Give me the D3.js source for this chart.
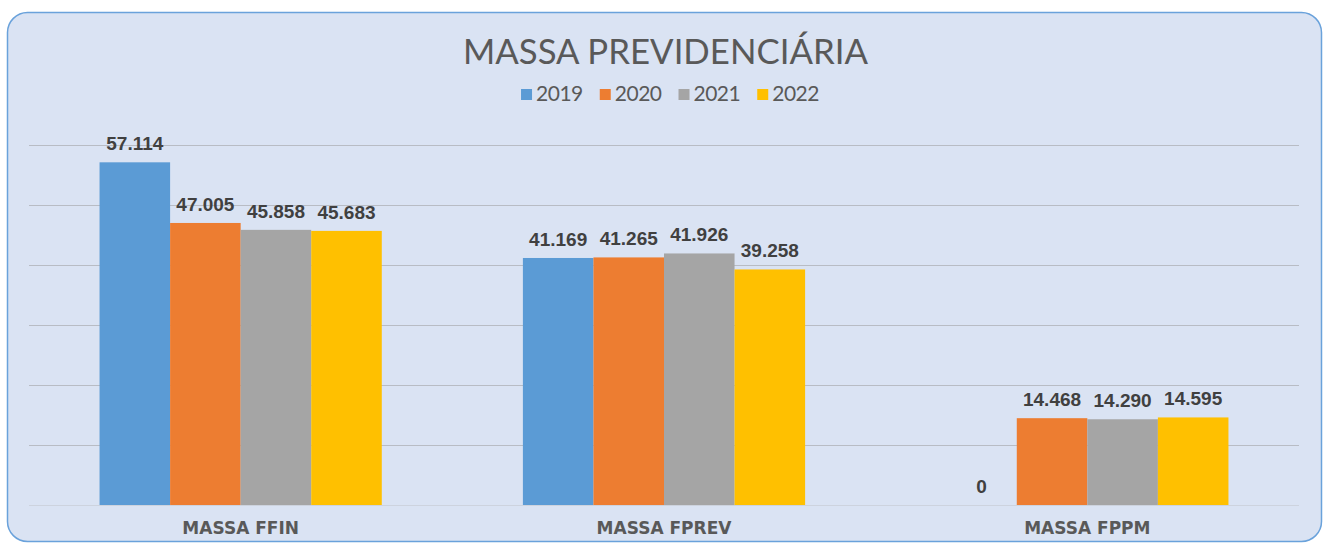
<!DOCTYPE html>
<html>
<head>
<meta charset="utf-8">
<style>
  body { margin: 0; background: #ffffff; }
  .title { font: 400 34px Lato, "Open Sans", sans-serif; fill: #595959; }
  .legend text { font: 400 21px Lato, sans-serif; fill: #595959; letter-spacing: -0.5px; }
  .label { font: bold 19px "Liberation Sans", Arial, sans-serif; fill: #404040; text-anchor: middle; }
  .cat { font: bold 17px "DejaVu Sans", sans-serif; fill: #595959; text-anchor: middle; }
</style>
<script src="https://d3js.org/d3.v7.min.js"></script>
</head>
<body>
<script>
// data
var categories = ["MASSA FFIN", "MASSA FPREV", "MASSA FPPM"];
var years = ["2019", "2020", "2021", "2022"];
var v2019 = [57114, 41169, 0];
var v2020 = [47005, 41265, 14468];
var v2021 = [45858, 41926, 14290];
var v2022 = [45683, 39258, 14595];
var yTicks = [0, 10000, 20000, 30000, 40000, 50000, 60000];
var colors = ["#5b9bd5", "#ed7d31", "#a5a5a5", "#ffc000"];

var series = [v2019, v2020, v2021, v2022];
var width = 1325, height = 543;

var svg = d3.select("body").append("svg")
    .attr("width", width)
    .attr("height", height);

// panel
svg.append("rect")
    .attr("x", 7.5).attr("y", 12.5)
    .attr("width", 1314).attr("height", 529)
    .attr("rx", 20).attr("ry", 20)
    .attr("fill", "#dae3f3")
    .attr("stroke", "#6aa2db")
    .attr("stroke-width", 1.5);

var x0 = d3.scaleBand().domain(categories).range([29, 1299]).padding(0);
var x1 = d3.scaleBand().domain(years).range([0, x0.bandwidth()]).paddingInner(0).paddingOuter(1);
var y = d3.scaleLinear().domain([0, 60000]).range([505, 145]);

// gridlines
svg.append("g").selectAll("line")
    .data(yTicks)
    .enter().append("line")
    .attr("x1", 29).attr("x2", 1299)
    .attr("y1", function(d) { return Math.round(y(d)) + 0.5; })
    .attr("y2", function(d) { return Math.round(y(d)) + 0.5; })
    .attr("stroke", function(d) { return d === 0 ? "#cdd3de" : "#b8bcc4"; })
    .attr("stroke-width", 1);

// bars
var rows = [];
categories.forEach(function(c, i) {
    years.forEach(function(yr, j) {
        rows.push({cat: c, year: yr, value: series[j][i], color: colors[j]});
    });
});

var g = svg.append("g");
g.selectAll("rect")
    .data(rows)
    .enter().append("rect")
    .attr("x", function(d) { return x0(d.cat) + x1(d.year); })
    .attr("width", x1.bandwidth())
    .attr("y", function(d) { return y(d.value); })
    .attr("height", function(d) { return y(0) - y(d.value); })
    .attr("fill", function(d) { return d.color; });

g.selectAll("text")
    .data(rows)
    .enter().append("text")
    .attr("class", "label")
    .attr("x", function(d) { return x0(d.cat) + x1(d.year) + x1.bandwidth() / 2; })
    .attr("y", function(d) { return y(d.value) - 12; })
    .text(function(d) { return d3.format(",")(d.value).replace(/,/g, "."); });

// category axis labels
svg.append("g").selectAll("text")
    .data(categories)
    .enter().append("text")
    .attr("class", "cat")
    .attr("x", function(d) { return x0(d) + x0.bandwidth() / 2; })
    .attr("y", 534)
    .text(function(d) { return d; });

// title
svg.append("text")
    .attr("class", "title")
    .attr("x", 665.5).attr("y", 64)
    .attr("text-anchor", "middle")
    .attr("textLength", 405)
    .attr("lengthAdjust", "spacingAndGlyphs")
    .text("MASSA PREVIDENCIÁRIA");

// legend
var legend = svg.append("g").attr("class", "legend");
var lx = 0;
years.forEach(function(yr, j) {
    var item = legend.append("g").attr("transform", "translate(" + lx + ",0)");
    item.append("rect").attr("x", 0).attr("y", 89).attr("width", 11).attr("height", 11).attr("fill", colors[j]);
    var t = item.append("text").attr("x", 15).attr("y", 101).text(yr);
    lx += 15 + t.node().getComputedTextLength() + 17;
});
var lw = lx - 17;
legend.attr("transform", "translate(" + (670 - lw / 2) + ",0)");
</script>
</body>
</html>
